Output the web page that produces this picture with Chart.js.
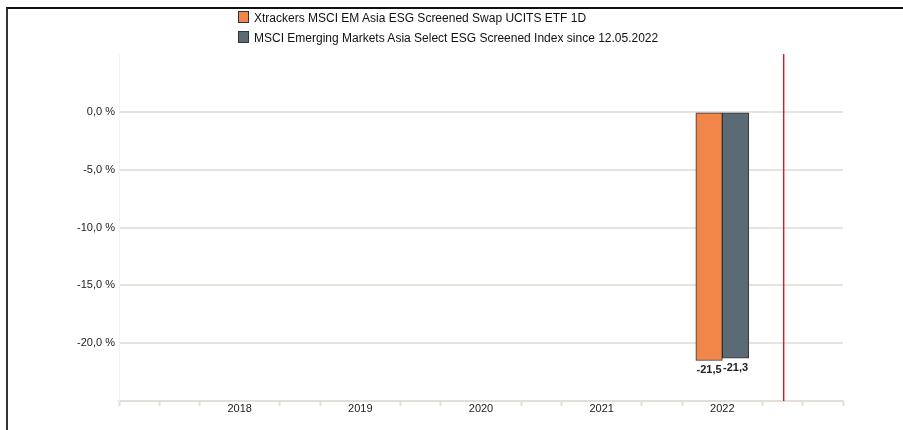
<!DOCTYPE html>
<html>
<head>
<meta charset="utf-8">
<script src="https://cdn.jsdelivr.net/npm/chart.js@4/dist/chart.umd.min.js"></script>
<style>
  body { margin: 0; background: #fff; font-family: "Liberation Sans", Arial, sans-serif; }
  #wrap { position: relative; width: 903px; height: 430px; }
  #frame { position: absolute; left: 6px; top: 7px; right: 0; bottom: 0; border-top: 2px solid #111; border-left: 2px solid #333; }
  #legend { position: absolute; left: 238px; top: 11px; font-size: 12px; color: #111; }
  #legend div { height: 20px; line-height: 14px; white-space: nowrap; }
  #legend span.box { display: inline-block; width: 9px; height: 10px; border: 1px solid #333; margin-right: 5px; vertical-align: -1px; }
  canvas { position: absolute; left: 0; top: 0; }
</style>
</head>
<body>
<div id="wrap">
  <div id="frame"></div>
  <canvas id="chart" width="903" height="430"></canvas>
  <div id="legend"></div>
</div>
<script>
// Data
const seriesNames = ['Xtrackers MSCI EM Asia ESG Screened Swap UCITS ETF 1D', 'MSCI Emerging Markets Asia Select ESG Screened Index since 12.05.2022'];
const seriesColors = ['#f0864a', '#5b6b76'];
const years = [2022];
const fundValues = [-21.5];
const indexValues = [-21.3];
const yearLabels = [2018, 2019, 2020, 2021, 2022];
const markerYear = 2022.5;

const font = { family: '"Liberation Sans", Arial, sans-serif', size: 11 };

// Legend
const legend = document.getElementById('legend');
seriesNames.forEach((name, i) => {
    const row = document.createElement('div');
    row.innerHTML = '<span class="box" style="background:' + seriesColors[i] + '"></span>' + name;
    legend.appendChild(row);
});

const fmt = v => v.toFixed(1).replace('.', ',');

// Bar value labels + red marker line
const extras = {
    id: 'extras',
    afterDatasetsDraw(chart) {
        const ctx = chart.ctx;
        const area = chart.chartArea;
        const xs = chart.scales.x;
        ctx.save();
        ctx.globalAlpha = 1;
        ctx.fillStyle = 'rgb(230, 20, 30)';
        const mx = Math.round(xs.getPixelForValue(markerYear));
        ctx.fillRect(mx, area.top, 1.4, area.bottom - area.top);

        ctx.fillStyle = '#222';
        ctx.font = 'bold 11px "Liberation Sans", Arial, sans-serif';
        ctx.textAlign = 'center';
        ctx.textBaseline = 'top';
        chart.data.datasets.forEach((ds, i) => {
            chart.getDatasetMeta(i).data.forEach((bar, j) => {
                ctx.fillText(fmt(ds.data[j].y), bar.x, bar.y + 4);
            });
        });
        ctx.restore();
    }
};

const xTicks = [];
for (let m = 0; m <= 18; m++) xTicks.push(2017 + m / 3);

new Chart(document.getElementById('chart').getContext('2d'), {
    type: 'bar',
    data: {
        datasets: [
            { label: seriesNames[0], data: years.map((y, i) => ({ x: y, y: fundValues[i] })), backgroundColor: seriesColors[0] },
            { label: seriesNames[1], data: years.map((y, i) => ({ x: y, y: indexValues[i] })), backgroundColor: seriesColors[1] }
        ]
    },
    options: {
        responsive: false,
        animation: false,
        layout: { padding: { left: 0, right: 60, top: 54, bottom: 0 } },
        datasets: { bar: { barThickness: 26.5, borderColor: '#333', borderWidth: 1, borderSkipped: false } },
        plugins: { legend: { display: false }, tooltip: { enabled: false } },
        scales: {
            x: {
                type: 'linear',
                offset: false,
                min: 2017,
                max: 2023,
                afterBuildTicks: axis => { axis.ticks = xTicks.map(v => ({ value: v })); },
                afterFit: axis => { axis.height = 29; },
                border: { color: '#e2dfd8', width: 2 },
                grid: {
                    offset: false,
                    drawOnChartArea: false,
                    tickLength: 5,
                    tickWidth: 2,
                    tickColor: c => {
                        const v = c.tick ? c.tick.value : 0;
                        const r = Math.round(v);
                        return (Math.abs(v - r) < 1e-6 && yearLabels.includes(r)) ? 'rgba(0,0,0,0)' : '#e2dfd8';
                    }
                },
                ticks: {
                    padding: -4,
                    color: '#222',
                    font,
                    autoSkip: false,
                    maxRotation: 0,
                    callback: v => {
                        const r = Math.round(v);
                        return (Math.abs(v - r) < 1e-6 && yearLabels.includes(r)) ? String(r) : '';
                    }
                }
            },
            y: {
                min: -25,
                max: 5,
                afterFit: axis => { axis.width = 119; },
                border: { display: true, color: '#f3f2ef', width: 1 },
                grid: { color: '#e6e3dd', lineWidth: 2, drawTicks: false },
                ticks: {
                    stepSize: 5,
                    padding: 4,
                    color: '#222',
                    font,
                    callback: v => (v > 0 || v < -20) ? null : fmt(v) + ' %'
                }
            }
        }
    },
    plugins: [extras]
});
</script>
</body>
</html>
